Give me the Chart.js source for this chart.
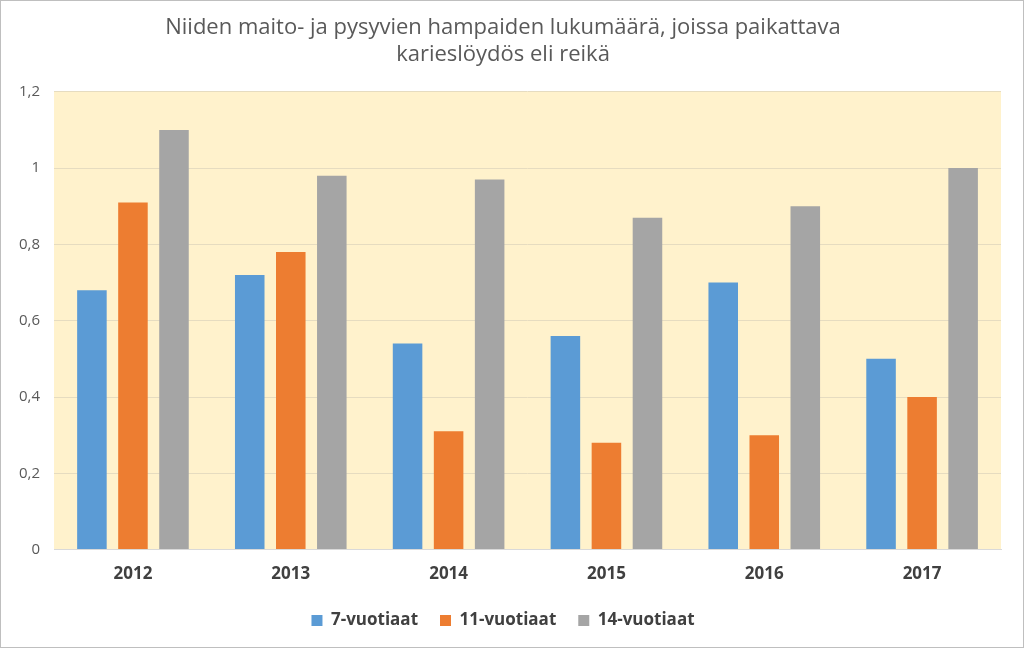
<!DOCTYPE html>
<html>
<head>
<meta charset="utf-8">
<script src="https://cdn.jsdelivr.net/npm/chart.js@4"></script>
<style>
  html, body { margin: 0; padding: 0; background: #fff; }
  #wrap { width: 1022px; height: 646px; border: 1px solid #bfbfbf; }
</style>
</head>
<body>
<div id="wrap"><canvas id="chart" width="1022" height="646"></canvas></div>
<script>
// Hampaiden karieslöydökset vuosittain ikäryhmittäin
const years = ["2012", "2013", "2014", "2015", "2016", "2017"];
const age7 = [0.68, 0.72, 0.54, 0.56, 0.70, 0.50];
const age11 = [0.91, 0.78, 0.31, 0.28, 0.30, 0.40];
const age14 = [1.10, 0.98, 0.97, 0.87, 0.90, 1.00];
const yTicks = ["0", "0,2", "0,4", "0,6", "0,8", "1", "1,2"];

// taustaväri vain piirtoalueelle
const areaBg = {
  id: "areaBg",
  beforeDraw(chart) {
    const { ctx, chartArea: a } = chart;
    ctx.save();
    ctx.fillStyle = "#fff2cc";
    ctx.fillRect(a.left, a.top, a.right - a.left, a.bottom - a.top);
    ctx.restore();
  },
};

function bars(label, data, color) {
  return { label, data, backgroundColor: color, barPercentage: 0.72, categoryPercentage: 0.78 };
}

new Chart(document.getElementById("chart"), {
  type: "bar",
  data: {
    labels: years,
    datasets: [
      bars("7-vuotiaat", age7, "#5b9bd5"),
      bars("11-vuotiaat", age11, "#ed7d31"),
      bars("14-vuotiaat", age14, "#a5a5a5"),
    ],
  },
  options: {
    responsive: false,
    animation: false,
    layout: { padding: { left: 4, right: 22, top: 10, bottom: 8 } },
    plugins: {
      title: {
        display: true,
        text: ["Niiden maito- ja pysyvien hampaiden lukumäärä, joissa paikattava", "karieslöydös eli reikä"],
        color: "#595959",
        font: { family: "Open Sans", size: 22, weight: "normal" },
        lineHeight: 1.45,
        padding: { top: 4, bottom: 24 },
      },
      legend: {
        position: "bottom",
        labels: {
          color: "#404040",
          font: { family: "Open Sans", size: 17, weight: "bold" },
          boxWidth: 11, boxHeight: 11, padding: 22,
        },
      },
      tooltip: { enabled: false },
    },
    scales: {
      x: {
        grid: { display: false },
        border: { color: "#d9d9d9" },
        ticks: { color: "#404040", font: { family: "Open Sans", size: 17, weight: "bold" }, padding: 6 },
      },
      y: {
        min: 0, max: 1.2,
        grid: { color: "#e6dcc0", drawTicks: false },
        border: { display: false },
        ticks: {
          stepSize: 0.2, padding: 14,
          color: "#595959", font: { family: "Open Sans", size: 15 },
          callback: (v, i) => yTicks[i],
        },
      },
    },
  },
  plugins: [areaBg],
});
</script>
</body>
</html>
